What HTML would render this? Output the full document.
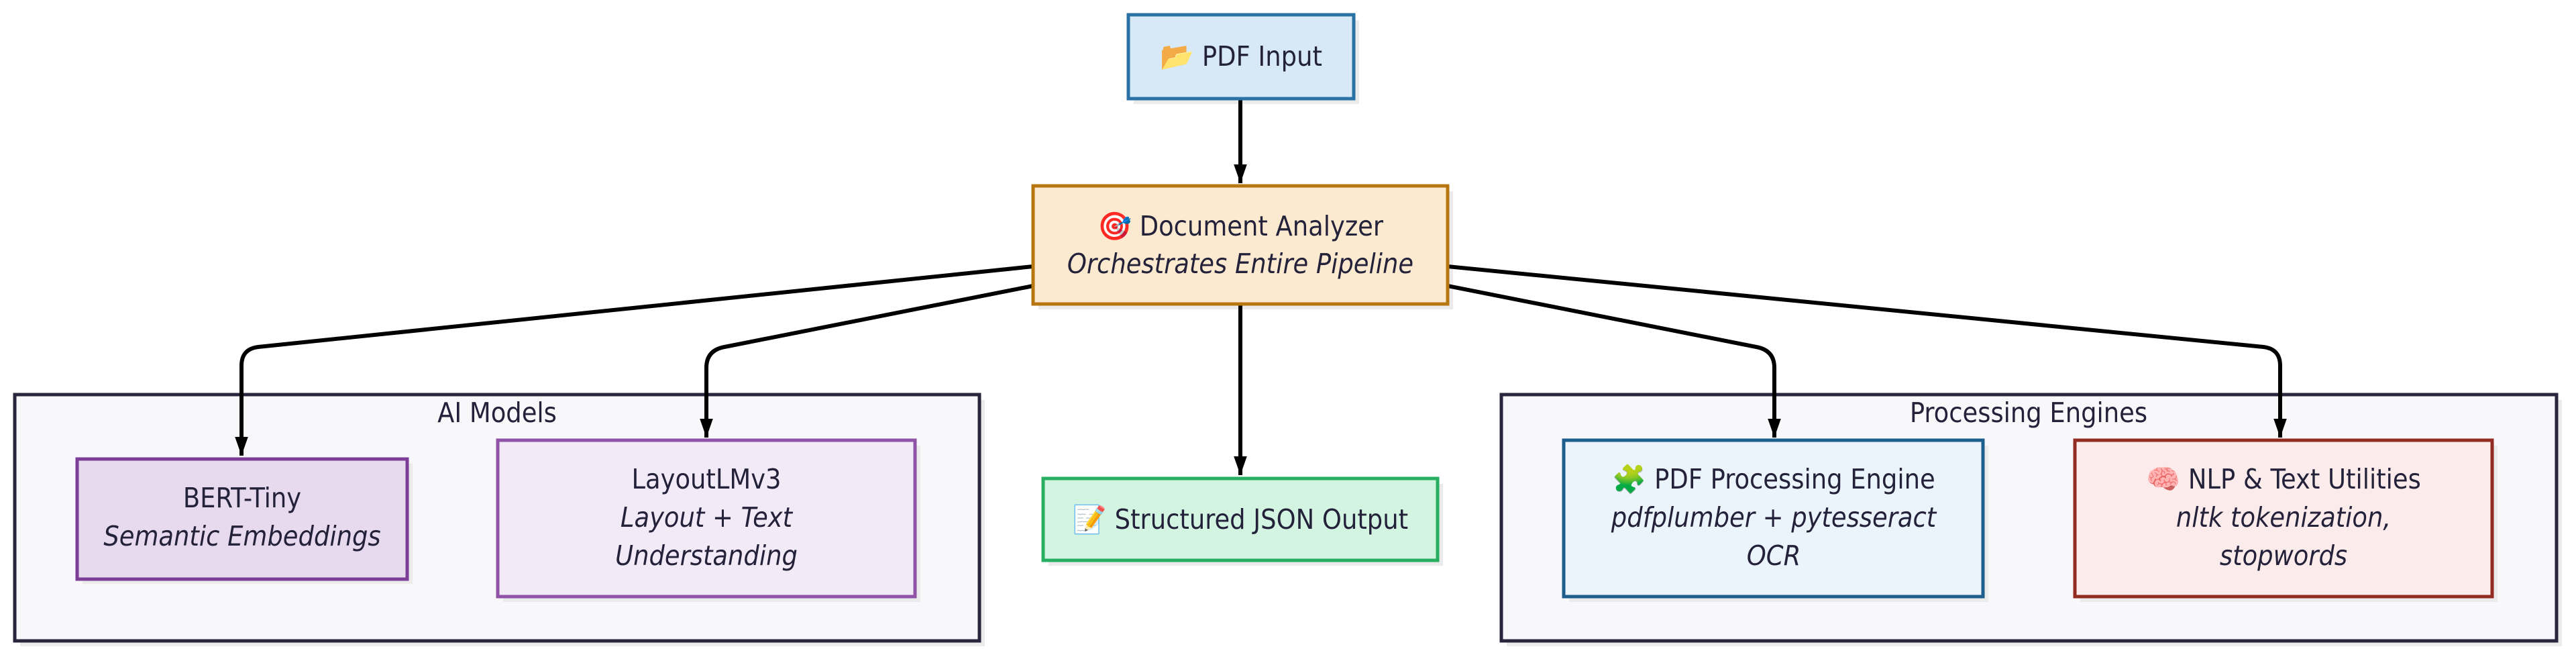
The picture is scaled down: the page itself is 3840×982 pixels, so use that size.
<!DOCTYPE html>
<html><head><meta charset="utf-8"><style>
html,body{margin:0;padding:0;background:#fff;width:3840px;height:982px;overflow:hidden}
svg text{font-family:"DejaVu Sans Condensed","DejaVu Sans","Liberation Sans",sans-serif;fill:#24223a;font-size:41px}
.i{font-style:italic}
</style></head><body>
<svg width="3840" height="982" viewBox="0 0 3840 982" xmlns="http://www.w3.org/2000/svg">
<defs>
<marker id="b" viewBox="0 0 10 10" refX="10" refY="5" markerWidth="28" markerHeight="28" orient="auto" markerUnits="userSpaceOnUse"><path d="M0,1.5 L10,5 L0,8.5z" fill="#000"/></marker></defs>
<rect x="30" y="596" width="1438" height="367" fill="#ebebeb"/>
<rect x="22" y="588" width="1438" height="367" fill="#f8f8fa" stroke="#27263d" stroke-width="5"/>
<text x="741" y="629" text-anchor="middle">AI Models</text>
<rect x="2246" y="596" width="1573" height="367" fill="#ebebeb"/>
<rect x="2238" y="588" width="1573" height="367" fill="#f8f8fa" stroke="#27263d" stroke-width="5"/>
<text x="3024" y="629" text-anchor="middle">Processing Engines</text>
<g fill="#ebebeb">
<rect x="1690" y="30" width="336" height="125"/>
<rect x="1548" y="285" width="618" height="176"/>
<rect x="123" y="691" width="492" height="179"/>
<rect x="750" y="664" width="622" height="233"/>
<rect x="1563" y="721" width="588" height="122"/>
<rect x="2339" y="664" width="625" height="233"/>
<rect x="3101" y="664" width="622" height="233"/>
</g>
<g fill="none" stroke="#000" stroke-width="6" marker-end="url(#b)">
<path d="M1849,147 V273"/>
<path d="M1849,455 V708"/>
<path d="M1540,397 L385,517 Q360,520 360,545 V679"/>
<path d="M1540,426 L1080,517 Q1053,522 1053,548 V652"/>
<path d="M2158,426 L2618,517 Q2645,522 2645,548 V652"/>
<path d="M2158,397 L3374,517 Q3399,520 3399,545 V652"/>
</g>
<rect x="1682" y="22" width="336" height="125" fill="#d7e9f6" stroke="#2a72a6" stroke-width="5"/>
<text x="1850" y="98" text-anchor="middle">📂 PDF Input</text>
<rect x="1540" y="277" width="618" height="176" fill="#fbead0" stroke="#b87611" stroke-width="5"/>
<text x="1849" y="351" text-anchor="middle">🎯 Document Analyzer</text>
<text x="1849" y="407" text-anchor="middle" class="i">Orchestrates Entire Pipeline</text>
<rect x="115" y="684" width="492" height="179" fill="#e7daee" stroke="#7b3d97" stroke-width="5"/>
<text x="361" y="756" text-anchor="middle">BERT-Tiny</text>
<text x="361" y="813" text-anchor="middle" class="i">Semantic Embeddings</text>
<rect x="742" y="656" width="622" height="233" fill="#f2eaf7" stroke="#8e52a6" stroke-width="5"/>
<text x="1053" y="728" text-anchor="middle">LayoutLMv3</text>
<text x="1053" y="785" text-anchor="middle" class="i">Layout + Text</text>
<text x="1053" y="842" text-anchor="middle" class="i">Understanding</text>
<rect x="1555" y="713" width="588" height="122" fill="#d4f4e2" stroke="#27ae60" stroke-width="5"/>
<text x="1849" y="788" text-anchor="middle">📝 Structured JSON Output</text>
<rect x="2331" y="656" width="625" height="233" fill="#ebf3fb" stroke="#1e5e8c" stroke-width="5"/>
<text x="2644" y="728" text-anchor="middle">🧩 PDF Processing Engine</text>
<text x="2644" y="785" text-anchor="middle" class="i">pdfplumber + pytesseract</text>
<text x="2644" y="842" text-anchor="middle" class="i">OCR</text>
<rect x="3093" y="656" width="622" height="233" fill="#fcebeb" stroke="#922b21" stroke-width="5"/>
<text x="3404" y="728" text-anchor="middle">🧠 NLP &amp; Text Utilities</text>
<text x="3404" y="785" text-anchor="middle" class="i">nltk tokenization,</text>
<text x="3404" y="842" text-anchor="middle" class="i">stopwords</text>
</svg>
</body></html>
